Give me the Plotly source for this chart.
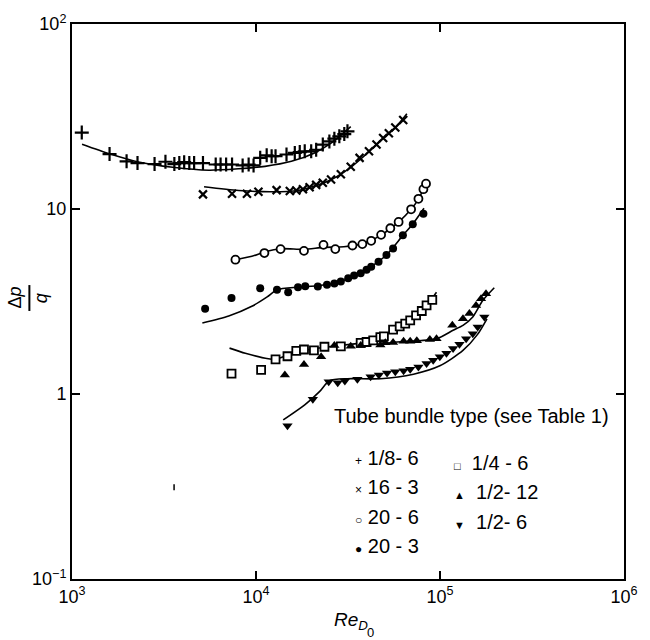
import plotly.graph_objects as go

# ---------------- data (Re_D0, Δp/q) ----------------
# 1/8-6  (+)
plus_x = [1130, 1600, 1980, 2270, 2810, 3220, 3600, 3830, 4070, 4340, 4610, 5150, 6040, 6420,
          6880, 7410, 8460, 9120, 9700, 10540, 11430, 12160, 12770, 14650, 16250, 17290, 18400,
          19950, 21230, 23070, 25050, 26660, 28370, 30190, 31410]
plus_y = [25.9, 19.8, 18.1, 17.7, 17.5, 18.0, 17.5, 17.7, 17.9, 17.7, 17.7, 17.7, 17.4, 17.4,
          17.4, 17.4, 17.2, 17.4, 17.2, 18.9, 19.5, 19.3, 19.3, 19.7, 20.1, 20.3, 20.5,
          20.5, 20.9, 22.3, 23.2, 24.0, 24.7, 25.4, 26.3]
plus_cx = [1134, 1597, 2335, 3530, 5550, 8050, 11200, 15580, 20800, 25580, 32730]
plus_cy = [22.4, 19.9, 17.9, 16.8, 16.2, 16.5, 17.0, 18.1, 20.1, 22.7, 27.9]

# 16-3  (x)
cross_x = [5150, 7410, 8930, 10310, 12940, 15270, 16560, 17990, 19550, 21230, 23070, 25580,
           28910, 32730, 36560, 41110, 45180, 49090, 52720, 57150, 63100]
cross_y = [12.0, 12.1, 12.1, 12.4, 12.65, 12.5, 12.6, 12.8, 13.1, 13.5, 13.85, 14.45,
           15.4, 16.9, 18.9, 20.5, 22.3, 24.2, 25.7, 27.6, 30.3]
cross_cx = [5220, 8050, 12160, 16920, 21230, 25580, 32730, 41110, 49090, 57150, 66070]
cross_cy = [13.2, 12.6, 12.4, 12.6, 13.4, 14.4, 16.8, 20.4, 24.1, 27.5, 32.7]

# 20-6  (open circle)
ocirc_x = [7730, 11110, 13600, 18230, 23270, 26980, 33440, 37840, 42270, 47860, 53700, 59570,
           69660, 76350, 81240, 83950]
ocirc_y = [5.32, 5.78, 6.07, 5.94, 6.40, 6.07, 6.35, 6.46, 6.73, 7.25, 7.87, 8.51,
           9.96, 11.35, 12.8, 13.7]
ocirc_cx = [7730, 9500, 11110, 13600, 18230, 23270, 30000, 37840, 47860, 53700, 59570, 69660, 76350, 83950]
ocirc_cy = [5.32, 5.55, 5.85, 6.10, 6.05, 6.20, 6.25, 6.50, 7.20, 7.85, 8.50, 9.96, 11.3, 13.7]

# 20-3  (filled circle)
fcirc_x = [5290, 7360, 10540, 13000, 14960, 16920, 18520, 21670, 24310, 26660, 28910, 31700,
           34130, 37060, 39900, 42270, 46350, 51170, 55590, 62850, 71120, 81240]
fcirc_y = [2.89, 3.30, 3.73, 3.66, 3.55, 3.78, 3.82, 3.81, 3.90, 3.96, 4.05, 4.22,
           4.37, 4.49, 4.70, 4.88, 5.19, 5.64, 6.12, 7.22, 8.28, 9.44]
fcirc_cx = [5110, 7110, 9490, 11500, 13000, 16920, 21670, 26660, 31700, 37060, 42270, 51170, 62850, 71120, 81850]
fcirc_cy = [2.42, 2.64, 2.98, 3.35, 3.66, 3.78, 3.85, 3.97, 4.20, 4.50, 4.88, 5.64, 7.20, 8.30, 10.1]

# 1/4-6  (open square)
sq_x = [7360, 10660, 12770, 14830, 16560, 18230, 20650, 23550, 28910, 37060, 39900, 43350,
        47420, 49550, 55590, 60390, 64710, 68870, 74130, 79620, 84530, 90780]
sq_y = [1.29, 1.35, 1.54, 1.60, 1.71, 1.74, 1.72, 1.80, 1.81, 1.89, 1.91, 1.95,
        2.03, 2.05, 2.23, 2.32, 2.40, 2.50, 2.66, 2.81, 3.01, 3.23]
sq_cx = [7180, 8750, 11670, 12770, 14830, 18230, 23550, 28910, 37060, 47420, 55590, 64710, 74130, 84530, 95720]
sq_cy = [1.77, 1.66, 1.55, 1.54, 1.62, 1.72, 1.79, 1.83, 1.89, 2.02, 2.22, 2.40, 2.66, 3.01, 3.55]

# 1/2-12  (triangle up)
tup_x = [14350, 18230, 22590, 26660, 32730, 37060, 47420, 50470, 55590, 63390, 68870, 74820,
         88100, 95720, 116700, 133300, 144500, 157000, 167100, 177800]
tup_y = [1.265, 1.445, 1.59, 1.83, 1.81, 1.83, 1.84, 1.89, 1.90, 1.93, 1.93, 1.94,
         1.97, 1.99, 2.35, 2.55, 2.72, 3.01, 3.27, 3.48]
tup_cx = [47420, 58340, 95720, 117800, 133300, 150700, 170700, 197200]
tup_cy = [1.86, 1.91, 1.99, 2.21, 2.35, 2.61, 3.20, 3.75]

# 1/2-6  (triangle down)
tdn_x = [14830, 20370, 24840, 27800, 30410, 35560, 41970, 46560, 51560, 57150, 63390, 68870,
         76350, 84530, 91830, 99770, 108400, 117800, 127600, 138700, 150700, 160300, 174200]
tdn_y = [0.673, 0.937, 1.164, 1.15, 1.175, 1.20, 1.24, 1.265, 1.30, 1.32, 1.335, 1.36,
         1.40, 1.46, 1.52, 1.59, 1.66, 1.76, 1.86, 1.99, 2.12, 2.30, 2.61]
tdn_cx = [14060, 18400, 22130, 25050, 31410, 47420, 71780, 99770, 133300, 160000, 180000]
tdn_cy = [0.724, 0.873, 1.03, 1.18, 1.21, 1.21, 1.28, 1.42, 1.72, 2.10, 2.55]

x_tickvals = [1e3, 1e4, 1e5, 1e6]
x_ticktext = ["10<sup>3</sup>", "10<sup>4</sup>", "10<sup>5</sup>", "10<sup>6</sup>"]
y_tickvals = [0.1, 1, 10, 100]
y_ticktext = ["10<sup>\u22121</sup>", "1", "10", "10<sup>2</sup>"]

legend_left = ["+", "\u00d7", "\u25cb", "\u25cf"]
legend_left_txt = ["1/8- 6", "16 - 3", "20 - 6", "20 - 3"]
legend_right = ["\u25a1", "\u25b2", "\u25bc"]
legend_right_txt = ["1/4 - 6", "1/2- 12", "1/2- 6"]

# ---------------- figure ----------------
fig = go.Figure()
BLACK = "black"

def curve(x, y):
    fig.add_trace(go.Scatter(x=x, y=y, mode="lines",
                             line=dict(color=BLACK, width=1.6, shape="spline", smoothing=0.7),
                             hoverinfo="skip", showlegend=False))

def pts(x, y, symbol, size, lw=1.5, fill=BLACK):
    fig.add_trace(go.Scatter(x=x, y=y, mode="markers",
                             marker=dict(symbol=symbol, size=size, color=fill,
                                         line=dict(color=BLACK, width=lw)),
                             showlegend=False))

curve(plus_cx, plus_cy)
curve(cross_cx, cross_cy)
curve(ocirc_cx, ocirc_cy)
curve(fcirc_cx, fcirc_cy)
curve(sq_cx, sq_cy)
curve(tup_cx, tup_cy)
curve(tdn_cx, tdn_cy)

pts(plus_x, plus_y, "cross-thin", 10, 2.2)
pts(cross_x, cross_y, "x-thin", 8, 2.2)
pts(ocirc_x, ocirc_y, "circle", 8, 1.8, "white")
pts(fcirc_x, fcirc_y, "circle", 8, 0)
pts(sq_x, sq_y, "square", 8, 1.8, "white")
pts(tup_x, tup_y, "triangle-up", 9, 0)
pts(tdn_x, tdn_y, "triangle-down", 9, 0)

FONT = "Liberation Sans, Arial, sans-serif"
L, R, T, B = 72, 21, 22, 61
PW, PH = 650 - L - R, 640 - T - B

def px(xp):
    return (xp - L) / PW

def py(yp):
    return (640 - B - yp) / PH

annotations = []
annotations.append(dict(text="Tube bundle type (see Table 1)", x=px(334), y=py(415), xref="paper", yref="paper",
                        xanchor="left", yanchor="middle", showarrow=False,
                        font=dict(size=20, family=FONT, color=BLACK)))
left_rows = [458, 487, 517, 546]
for s, t, yy in zip(legend_left, legend_left_txt, left_rows):
    annotations.append(dict(text=f"<span style='font-size:12px'>{s}</span> {t}", x=px(356), y=py(yy),
                            xref="paper", yref="paper", xanchor="left", yanchor="middle", showarrow=False,
                            font=dict(size=20, family=FONT, color=BLACK)))
right_rows = [463, 492, 522]
for s, t, yy in zip(legend_right, legend_right_txt, right_rows):
    annotations.append(dict(text=f"<span style='font-size:11px'>{s}</span>  {t}", x=px(455), y=py(yy),
                            xref="paper", yref="paper", xanchor="left", yanchor="middle", showarrow=False,
                            font=dict(size=20, family=FONT, color=BLACK)))

# y axis title (fraction)
annotations.append(dict(text="\u0394<i>p</i>", x=px(14), y=py(297), xref="paper", yref="paper",
                        textangle=-90, showarrow=False, xanchor="center", yanchor="middle",
                        font=dict(size=18, family=FONT, color=BLACK)))
annotations.append(dict(text="<i>q</i>", x=px(41), y=py(297), xref="paper", yref="paper",
                        textangle=-90, showarrow=False, xanchor="center", yanchor="middle",
                        font=dict(size=18, family=FONT, color=BLACK)))
# x axis title
annotations.append(dict(text="<i>Re</i><sub><i>D</i></sub>", x=px(334), y=py(621), xref="paper", yref="paper",
                        showarrow=False, xanchor="left", yanchor="middle",
                        font=dict(size=19, family=FONT, color=BLACK)))
annotations.append(dict(text="0", x=px(368), y=py(633), xref="paper", yref="paper",
                        showarrow=False, xanchor="left", yanchor="middle",
                        font=dict(size=13, family=FONT, color=BLACK)))

shapes = [
    dict(type="line", xref="paper", yref="paper", x0=px(29), x1=px(29), y0=py(284), y1=py(310),
         line=dict(color=BLACK, width=2)),
    dict(type="line", xref="paper", yref="paper", x0=px(175), x1=px(175), y0=py(484), y1=py(490),
         line=dict(color=BLACK, width=1.5)),
]

axis_common = dict(type="log", showgrid=False, zeroline=False, ticks="inside", ticklen=8, tickwidth=2,
                   tickcolor=BLACK, showline=True, linecolor=BLACK, linewidth=2, mirror="ticks",
                   tickfont=dict(size=18, family=FONT, color=BLACK))
fig.update_xaxes(range=[3, 6], tickvals=x_tickvals, ticktext=x_ticktext, **axis_common)
fig.update_yaxes(range=[-1, 2], tickvals=y_tickvals, ticktext=y_ticktext, **axis_common)

fig.update_layout(width=650, height=640, margin=dict(l=L, r=R, t=T, b=B, pad=0),
                  paper_bgcolor="white", plot_bgcolor="white", showlegend=False,
                  annotations=annotations, shapes=shapes, font=dict(family=FONT, color=BLACK))

fig.write_html("out.html")
